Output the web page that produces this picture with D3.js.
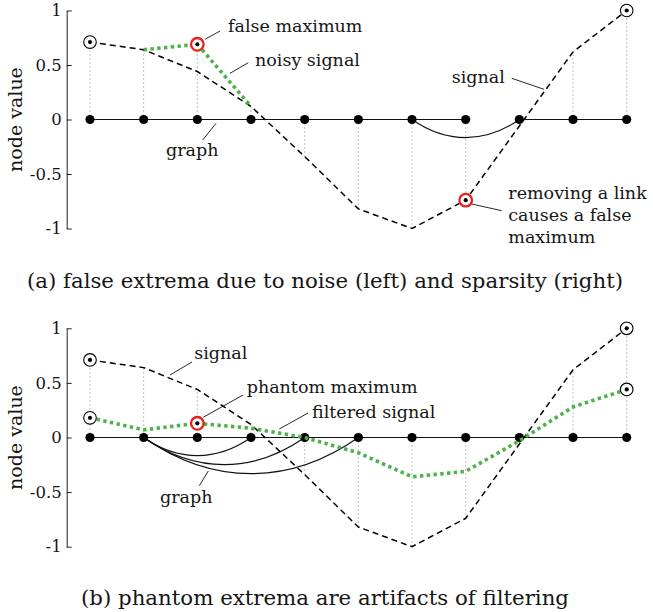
<!DOCTYPE html>
<html>
<head>
<meta charset="utf-8">
<script src="https://cdn.jsdelivr.net/npm/d3@7"></script>
<style>
  body { margin: 0; background: #fff; }
  svg text { font-family: "DejaVu Serif", serif; fill: #151515; }
</style>
</head>
<body>
<svg id="fig" width="653" height="612"></svg>
<script>
// ---- data -------------------------------------------------------------
const nodes = [0, 1, 2, 3, 4, 5, 6, 7, 8, 9, 10];
const yTicks = [-1, -0.5, 0, 0.5, 1];

// smooth graph signal sampled on the path graph
const signal = [0.71, 0.64, 0.44, 0.12, -0.34, -0.82, -1.0, -0.74, -0.06, 0.62, 1.0];

// panel (a): noise added on nodes 1..3
const noisyNodes = [1, 2, 3];
const noisyValues = [0.64, 0.69, 0.12];

// panel (b): low-pass filtered signal
const filtered = [0.18, 0.07, 0.13, 0.085, 0.0, -0.14, -0.36, -0.31, -0.03, 0.28, 0.44];

// graph topology: straight links along the axis and curved long links
const edgesA = [[0, 1], [1, 2], [2, 3], [3, 4], [4, 5], [5, 6], [6, 7], [8, 9], [9, 10]];
const arcsA = [[6, 8]];
const edgesB = [[0, 1], [1, 2], [2, 3], [3, 4], [4, 5], [5, 6], [6, 7], [7, 8], [8, 9], [9, 10]];
const arcsB = [[1, 3], [1, 4], [1, 5]];

// highlighted extrema: true ones (black ring) and false/phantom ones (red ring)
const trueExtremaA = [["signal", 0], ["signal", 10]];
const falseExtremaA = [["noisy", 2], ["signal", 7]];
const trueExtremaB = [["signal", 0], ["filtered", 0], ["signal", 10], ["filtered", 10]];
const falseExtremaB = [["filtered", 2]];

const captionA = "(a) false extrema due to noise (left) and sparsity (right)";
const captionB = "(b) phantom extrema are artifacts of filtering";

// ---- styles -------------------------------------------------------------
const GREEN = "#4cb34a";
const RED = "#e8221b";
const FONT = 17.5;
const CAPTION_FONT = 21.3;
const TITLE_FONT = 19;

const svg = d3.select("#fig");
const x = d3.scaleLinear().domain([0, 10]).range([90, 626.7]);

function drawPanel(cfg) {
  const g = svg.append("g");
  const y = d3.scaleLinear().domain([-1, 1]).range(cfg.yRange);
  const series = cfg.series; // name -> array of [node, value]
  const valueAt = (name, n) => {
    const p = series[name].find(d => d[0] === n);
    return p ? p[1] : null;
  };

  // y axis, ticks pointing inwards
  const axis = d3.axisLeft(y)
    .tickValues(yTicks)
    .tickFormat(d => String(d))
    .tickSizeInner(-5)
    .tickSizeOuter(0)
    .tickPadding(5);
  const ax = g.append("g").attr("transform", "translate(66.7,0)").call(axis);
  ax.attr("font-family", null).attr("font-size", null);
  ax.selectAll("path, line").attr("stroke", "#222").attr("stroke-width", 1);
  ax.selectAll("text").style("font-size", "16.5px").attr("fill", "#151515");

  // axis title
  g.append("text")
    .attr("transform", `translate(21.5,${(cfg.yRange[0] + cfg.yRange[1]) / 2}) rotate(-90)`)
    .attr("text-anchor", "middle")
    .style("font-size", TITLE_FONT + "px")
    .text("node value");

  // dotted stems from each node up/down to its largest plotted value
  const stemValue = n => {
    let best = 0;
    Object.keys(series).forEach(k => {
      const v = valueAt(k, n);
      if (v !== null && Math.abs(v) > Math.abs(best)) best = v;
    });
    return best;
  };
  g.append("g").selectAll("line").data(nodes).join("line")
    .attr("x1", d => x(d)).attr("x2", d => x(d))
    .attr("y1", y(0)).attr("y2", d => y(stemValue(d)))
    .attr("stroke", "#777").attr("stroke-width", 0.9)
    .attr("stroke-dasharray", "1,3");

  // graph links
  g.append("g").selectAll("line").data(cfg.edges).join("line")
    .attr("x1", d => x(d[0])).attr("x2", d => x(d[1]))
    .attr("y1", y(0)).attr("y2", y(0))
    .attr("stroke", "#111").attr("stroke-width", 1.1);

  const bend = 35 * Math.PI / 180;
  g.append("g").selectAll("path").data(cfg.arcs).join("path")
    .attr("d", d => {
      const x0 = x(d[0]), x1 = x(d[1]), y0 = y(0);
      const k = 0.3915 * (x1 - x0);
      const p = d3.path();
      p.moveTo(x0, y0);
      p.bezierCurveTo(x0 + k * Math.cos(bend), y0 + k * Math.sin(bend),
                      x1 - k * Math.cos(bend), y0 + k * Math.sin(bend),
                      x1, y0);
      return p.toString();
    })
    .attr("fill", "none").attr("stroke", "#111").attr("stroke-width", 1.1);

  // nodes
  g.append("g").selectAll("circle").data(nodes).join("circle")
    .attr("cx", d => x(d)).attr("cy", y(0)).attr("r", 4.6)
    .attr("fill", "#000");

  const line = d3.line().x(d => x(d[0])).y(d => y(d[1]));

  // original signal (dashed)
  g.append("path").datum(series.signal)
    .attr("d", line)
    .attr("fill", "none").attr("stroke", "#000")
    .attr("stroke-width", 1.5).attr("stroke-dasharray", "6,4");

  // noisy / filtered signal (green dotted)
  g.append("path").datum(series[cfg.greenName])
    .attr("d", line)
    .attr("fill", "none").attr("stroke", GREEN)
    .attr("stroke-width", 3.6).attr("stroke-dasharray", "3.4,3.4");

  // extrema markers
  const mark = (list, color, width) => {
    const mg = g.append("g").selectAll("g").data(list).join("g")
      .attr("transform", d => `translate(${x(d[1])},${y(valueAt(d[0], d[1]))})`);
    mg.append("circle").attr("r", 6.3).attr("fill", "#fff")
      .attr("stroke", color).attr("stroke-width", width);
    mg.append("circle").attr("r", 2.1).attr("fill", "#000");
  };
  mark(cfg.trueExtrema, "#000", 1.1);
  mark(cfg.falseExtrema, RED, 2.3);

  // annotations with leader lines
  cfg.notes.forEach(nt => {
    g.append("line")
      .attr("x1", nt.from[0]).attr("y1", nt.from[1])
      .attr("x2", nt.to[0]).attr("y2", nt.to[1])
      .attr("stroke", "#111").attr("stroke-width", 0.9);
    const t = g.append("text")
      .attr("x", nt.at[0]).attr("y", nt.at[1])
      .style("font-size", FONT + "px");
    nt.lines.forEach((s, i) => {
      t.append("tspan").attr("x", nt.at[0]).attr("dy", i === 0 ? 0 : 21.7).text(s);
    });
  });

  // caption
  svg.append("text")
    .attr("x", 325).attr("y", cfg.captionY)
    .attr("text-anchor", "middle")
    .style("font-size", CAPTION_FONT + "px")
    .text(cfg.caption);
}

const toPairs = vals => nodes.map(n => [n, vals[n]]);

drawPanel({
  yRange: [228.5, 10.5],
  series: {
    signal: toPairs(signal),
    noisy: noisyNodes.map((n, i) => [n, noisyValues[i]])
  },
  greenName: "noisy",
  edges: edgesA,
  arcs: arcsA,
  trueExtrema: trueExtremaA,
  falseExtrema: falseExtremaA,
  notes: [
    { lines: ["false maximum"], at: [228, 32.3], from: [205, 39.3], to: [220, 31] },
    { lines: ["noisy signal"], at: [255, 65.7], from: [230, 73.3], to: [248.3, 62.7] },
    { lines: ["graph"], at: [166, 156], from: [202.7, 140], to: [216, 123.3] },
    { lines: ["signal"], at: [451.7, 82.7], from: [511.7, 78.3], to: [544, 89.3] },
    { lines: ["removing a link", "causes a false", "maximum"], at: [508.3, 199.3],
      from: [471.7, 204], to: [501.7, 210.7] }
  ],
  caption: captionA,
  captionY: 288
});

drawPanel({
  yRange: [546.7, 328.3],
  series: {
    signal: toPairs(signal),
    filtered: toPairs(filtered)
  },
  greenName: "filtered",
  edges: edgesB,
  arcs: arcsB,
  trueExtrema: trueExtremaB,
  falseExtrema: falseExtremaB,
  notes: [
    { lines: ["signal"], at: [194.3, 359.3], from: [170, 375], to: [192, 362] },
    { lines: ["phantom maximum"], at: [246.7, 392.7], from: [203.3, 417.3], to: [243, 395] },
    { lines: ["filtered signal"], at: [312, 418.3], from: [279.3, 429], to: [308, 413] },
    { lines: ["graph"], at: [160, 502.7], from: [199.3, 485.7], to: [208.3, 471] }
  ],
  caption: captionB,
  captionY: 604.5
});
</script>
</body>
</html>
